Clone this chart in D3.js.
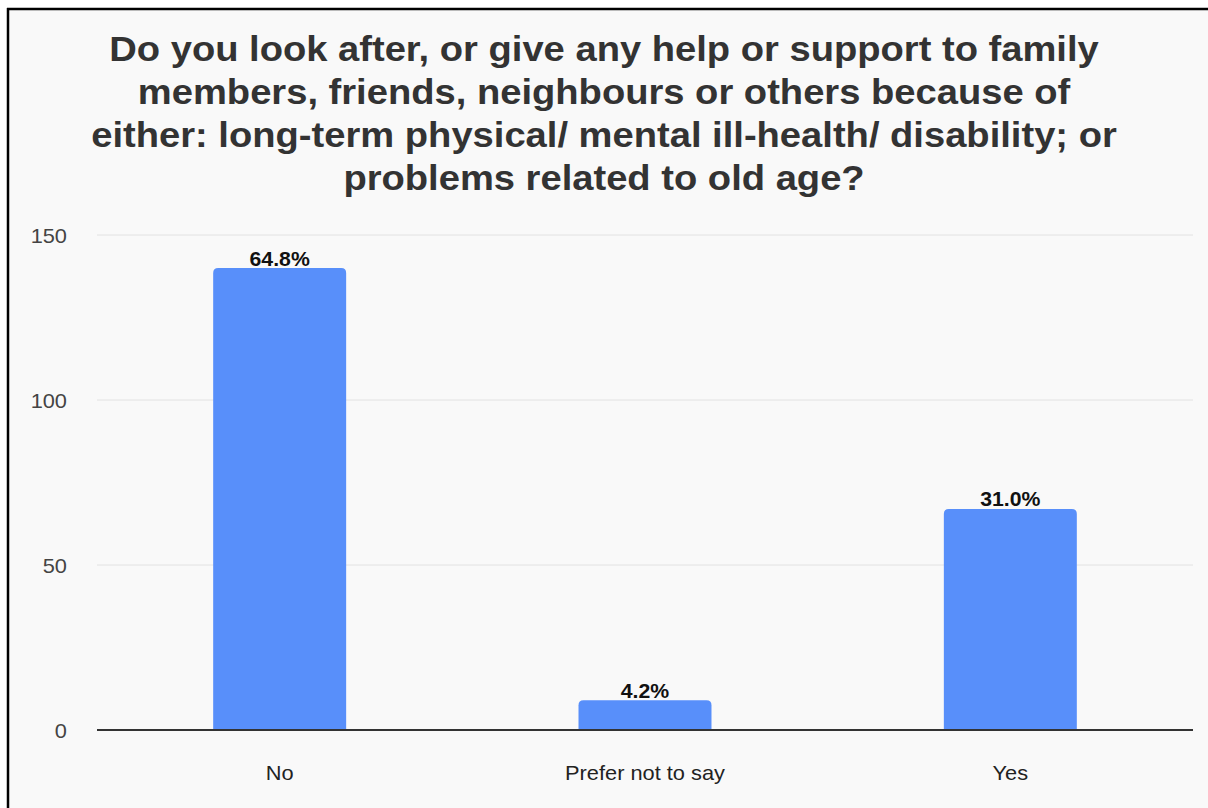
<!DOCTYPE html>
<html><head><meta charset="utf-8">
<script src="https://cdn.jsdelivr.net/npm/d3@7"></script>
<style>
html,body{margin:0;padding:0;background:#fff;}
svg{display:block;}
</style></head>
<body>
<svg id="chart" width="1208" height="808"></svg>
<script>
const categories = ["No", "Prefer not to say", "Yes"];
const values = [140, 9, 67];
const percentLabels = ["64.8%", "4.2%", "31.0%"];
const yTicks = [0, 50, 100, 150];
const titleLines = [
  "Do you look after, or give any help or support to family",
  "members, friends, neighbours or others because of",
  "either: long-term physical/ mental ill-health/ disability; or",
  "problems related to old age?"
];

(function () {
const svg = d3.select("#chart");
const W = 1208, H = 808;
const font = "'Liberation Sans', Arial, sans-serif";
const SX = 1.09; // horizontal stretch of the reference's text

// panel background and frame
svg.append("rect").attr("x", 8).attr("y", 9).attr("width", W - 8).attr("height", H - 9)
  .attr("fill", "#f9f9f9");
svg.append("line").attr("x1", 8).attr("x2", 8).attr("y1", 8).attr("y2", H)
  .attr("stroke", "#000").attr("stroke-width", 2.5);
svg.append("line").attr("x1", 7).attr("x2", W).attr("y1", 9).attr("y2", 9)
  .attr("stroke", "#000").attr("stroke-width", 2.5);

// title
svg.append("g").selectAll("g").data(titleLines).join("g")
  .attr("transform", (d, i) => `translate(604,${60.5 + i * 43}) scale(${SX},1)`)
  .append("text").attr("text-anchor", "middle").attr("font-family", font)
  .attr("font-weight", "bold").attr("font-size", 35).attr("fill", "#333")
  .text(d => d);

const mLeft = 97, mRight = 1193, mTop = 235, mBottom = 730;
const x = d3.scaleBand().domain(categories).range([mLeft, mRight])
  .paddingInner(0.636).paddingOuter(0.318);
const y = d3.scaleLinear().domain([0, 150]).range([mBottom, mTop]);

// gridlines
svg.append("g").selectAll("line").data(yTicks.filter(t => t > 0)).join("line")
  .attr("x1", mLeft).attr("x2", mRight)
  .attr("y1", d => y(d)).attr("y2", d => y(d))
  .attr("stroke", "#e2e2e2").attr("stroke-width", 1);

// y axis labels
const yAxis = d3.axisLeft(y).tickValues(yTicks).tickSize(0).tickPadding(0);
const gy = svg.append("g").attr("transform", `translate(67,0)`).call(yAxis);
gy.select(".domain").remove();
gy.selectAll(".tick text").attr("font-family", font).attr("font-size", 20)
  .attr("fill", "#444").attr("dy", "0.36em")
  .attr("transform", `scale(${SX},1)`);

// bars with rounded top corners
const r = 5;
function barPath(d, i) {
  const x0 = x(categories[i]), w = x.bandwidth();
  const y0 = y(d), y1 = y(0);
  const rr = Math.min(r, (y1 - y0));
  return `M${x0},${y1} V${y0 + rr} Q${x0},${y0} ${x0 + rr},${y0} H${x0 + w - rr} Q${x0 + w},${y0} ${x0 + w},${y0 + rr} V${y1} Z`;
}
svg.append("g").selectAll("path").data(values).join("path")
  .attr("d", barPath).attr("fill", "#588ffa");

// baseline
svg.append("line").attr("x1", mLeft).attr("x2", mRight).attr("y1", y(0)).attr("y2", y(0))
  .attr("stroke", "#333").attr("stroke-width", 2);

// value labels
svg.append("g").selectAll("g").data(values).join("g")
  .attr("transform", (d, i) => `translate(${x(categories[i]) + x.bandwidth() / 2},${y(d) - 2.5}) scale(${SX},1)`)
  .append("text")
  .attr("text-anchor", "middle").attr("font-family", font)
  .attr("font-weight", "bold").attr("font-size", 19.5).attr("fill", "#111")
  .text((d, i) => percentLabels[i]);

// x axis labels
const xAxis = d3.axisBottom(x).tickSize(0).tickPadding(0);
const gx = svg.append("g").attr("transform", `translate(0,${mBottom})`).call(xAxis);
gx.select(".domain").remove();
gx.selectAll(".tick text").attr("font-family", font).attr("font-size", 20)
  .attr("fill", "#222").attr("dy", 0).attr("y", 0)
  .attr("transform", `translate(0,50) scale(${SX},1)`);
})();
</script>
</body></html>
